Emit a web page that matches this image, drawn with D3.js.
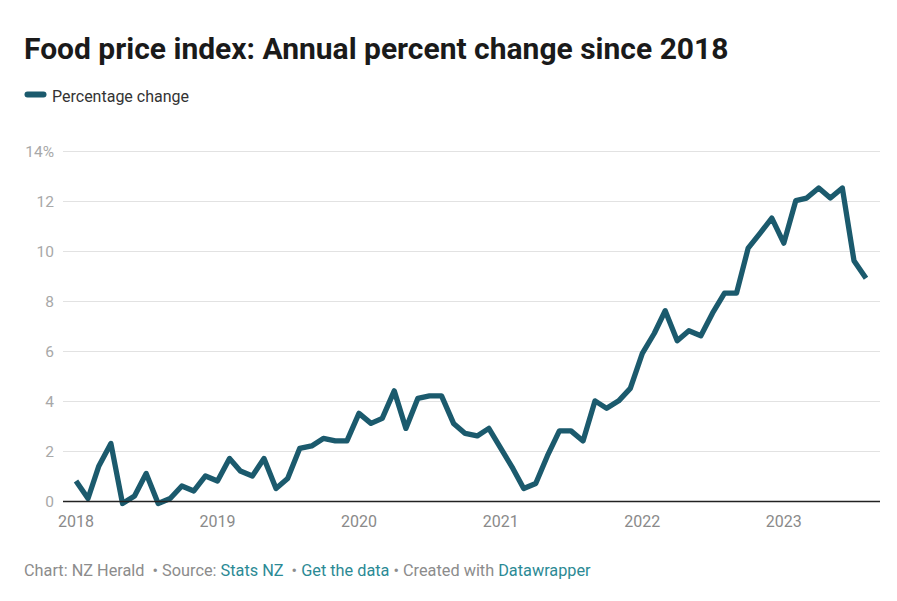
<!DOCTYPE html>
<html>
<head>
<meta charset="utf-8">
<script src="https://cdn.jsdelivr.net/npm/d3@7"></script>
<style>
  html, body { margin: 0; padding: 0; background: #fff; }
  svg { display: block; font-family: Roboto, "Noto Sans", sans-serif; }
</style>
</head>
<body>
<svg id="chart" width="897" height="601"></svg>
<script>
// Monthly annual % change, Jan 2018 .. Aug 2023
const startYear = 2018;
const values = [
  0.8, 0.1, 1.4, 2.3, -0.1, 0.2, 1.1, -0.1, 0.1, 0.6, 0.4, 1.0,   // 2018
  0.8, 1.7, 1.2, 1.0, 1.7, 0.5, 0.9, 2.1, 2.2, 2.5, 2.4, 2.4,     // 2019
  3.5, 3.1, 3.3, 4.4, 2.9, 4.1, 4.2, 4.2, 3.1, 2.7, 2.6, 2.9,     // 2020
  2.1, 1.3, 0.5, 0.7, 1.8, 2.8, 2.8, 2.4, 4.0, 3.7, 4.0, 4.5,     // 2021
  5.9, 6.7, 7.6, 6.4, 6.8, 6.6, 7.5, 8.3, 8.3, 10.1, 10.7, 11.3,  // 2022
  10.3, 12.0, 12.1, 12.5, 12.1, 12.5, 9.6, 8.9                    // 2023
];
const yTicks = [0, 2, 4, 6, 8, 10, 12, 14];
const xTickYears = [2018, 2019, 2020, 2021, 2022, 2023];
const seriesName = "Percentage change";
const title = "Food price index: Annual percent change since 2018";

(function () {
const data = values.map((v, i) => ({ date: new Date(startYear, i, 1), value: v }));

const svg = d3.select("#chart");
const pLeft = 63, pRight = 880, pTop = 150.5, pBottom = 501;
const lineColor = "#1b5a6d";

const x = d3.scaleTime()
  .domain([new Date(2018, 0, 1), new Date(2023, 7, 1)])
  .range([76, 866]);
const y = d3.scaleLinear().domain([0, 14]).range([pBottom, pTop]);

// Title
svg.append("text")
  .attr("x", 24).attr("y", 59)
  .attr("font-size", 30).attr("font-weight", 700)
  .attr("fill", "#1a1a1a")
  .text(title);

// Legend
svg.append("line")
  .attr("x1", 27.5).attr("x2", 43.5).attr("y1", 94.5).attr("y2", 94.5)
  .attr("stroke", lineColor).attr("stroke-width", 6).attr("stroke-linecap", "round");
svg.append("text")
  .attr("x", 52).attr("y", 101.5)
  .attr("font-size", 16).attr("fill", "#333")
  .text(seriesName);

// Grid + y labels
const yAxis = svg.append("g");
yTicks.forEach(t => {
  if (t !== 0) {
    yAxis.append("line")
      .attr("x1", pLeft).attr("x2", pRight)
      .attr("y1", Math.round(y(t)) + 0.5).attr("y2", Math.round(y(t)) + 0.5)
      .attr("stroke", "#e2e2e2").attr("stroke-width", 1);
  }
  yAxis.append("text")
    .attr("x", 54).attr("y", y(t) + 6)
    .attr("text-anchor", "end")
    .attr("font-size", 15.5).attr("fill", "#a8a8a8")
    .text(t === 14 ? "14%" : t);
});

// X labels
svg.append("g").selectAll("text")
  .data(xTickYears)
  .join("text")
  .attr("x", d => x(new Date(d, 0, 1)))
  .attr("y", 527)
  .attr("text-anchor", "middle")
  .attr("font-size", 16).attr("fill", "#8a8a8a")
  .text(d => d);

// Line
const line = d3.line()
  .x(d => x(d.date))
  .y(d => y(d.value));
svg.append("path")
  .datum(data)
  .attr("d", line)
  .attr("fill", "none")
  .attr("stroke", lineColor)
  .attr("stroke-width", 5.3)
  .attr("stroke-linejoin", "round")
  .attr("stroke-linecap", "butt");

// zero baseline
svg.append("line")
  .attr("x1", pLeft).attr("x2", pRight)
  .attr("y1", pBottom + 0.5).attr("y2", pBottom + 0.5)
  .attr("stroke", "#222").attr("stroke-width", 1.3);

// Footer
const foot = svg.append("text")
  .attr("x", 24).attr("y", 576)
  .attr("font-size", 16.3).attr("fill", "#8c8c8c")
  .style("white-space", "pre");
foot.append("tspan").text("Chart: NZ Herald  • Source: ");
foot.append("tspan").attr("fill", "#2b8a95").text("Stats NZ");
foot.append("tspan").text("  • ");
foot.append("tspan").attr("fill", "#2b8a95").text("Get the data");
foot.append("tspan").text(" • Created with ");
foot.append("tspan").attr("fill", "#2b8a95").text("Datawrapper");
})();
</script>
</body>
</html>
